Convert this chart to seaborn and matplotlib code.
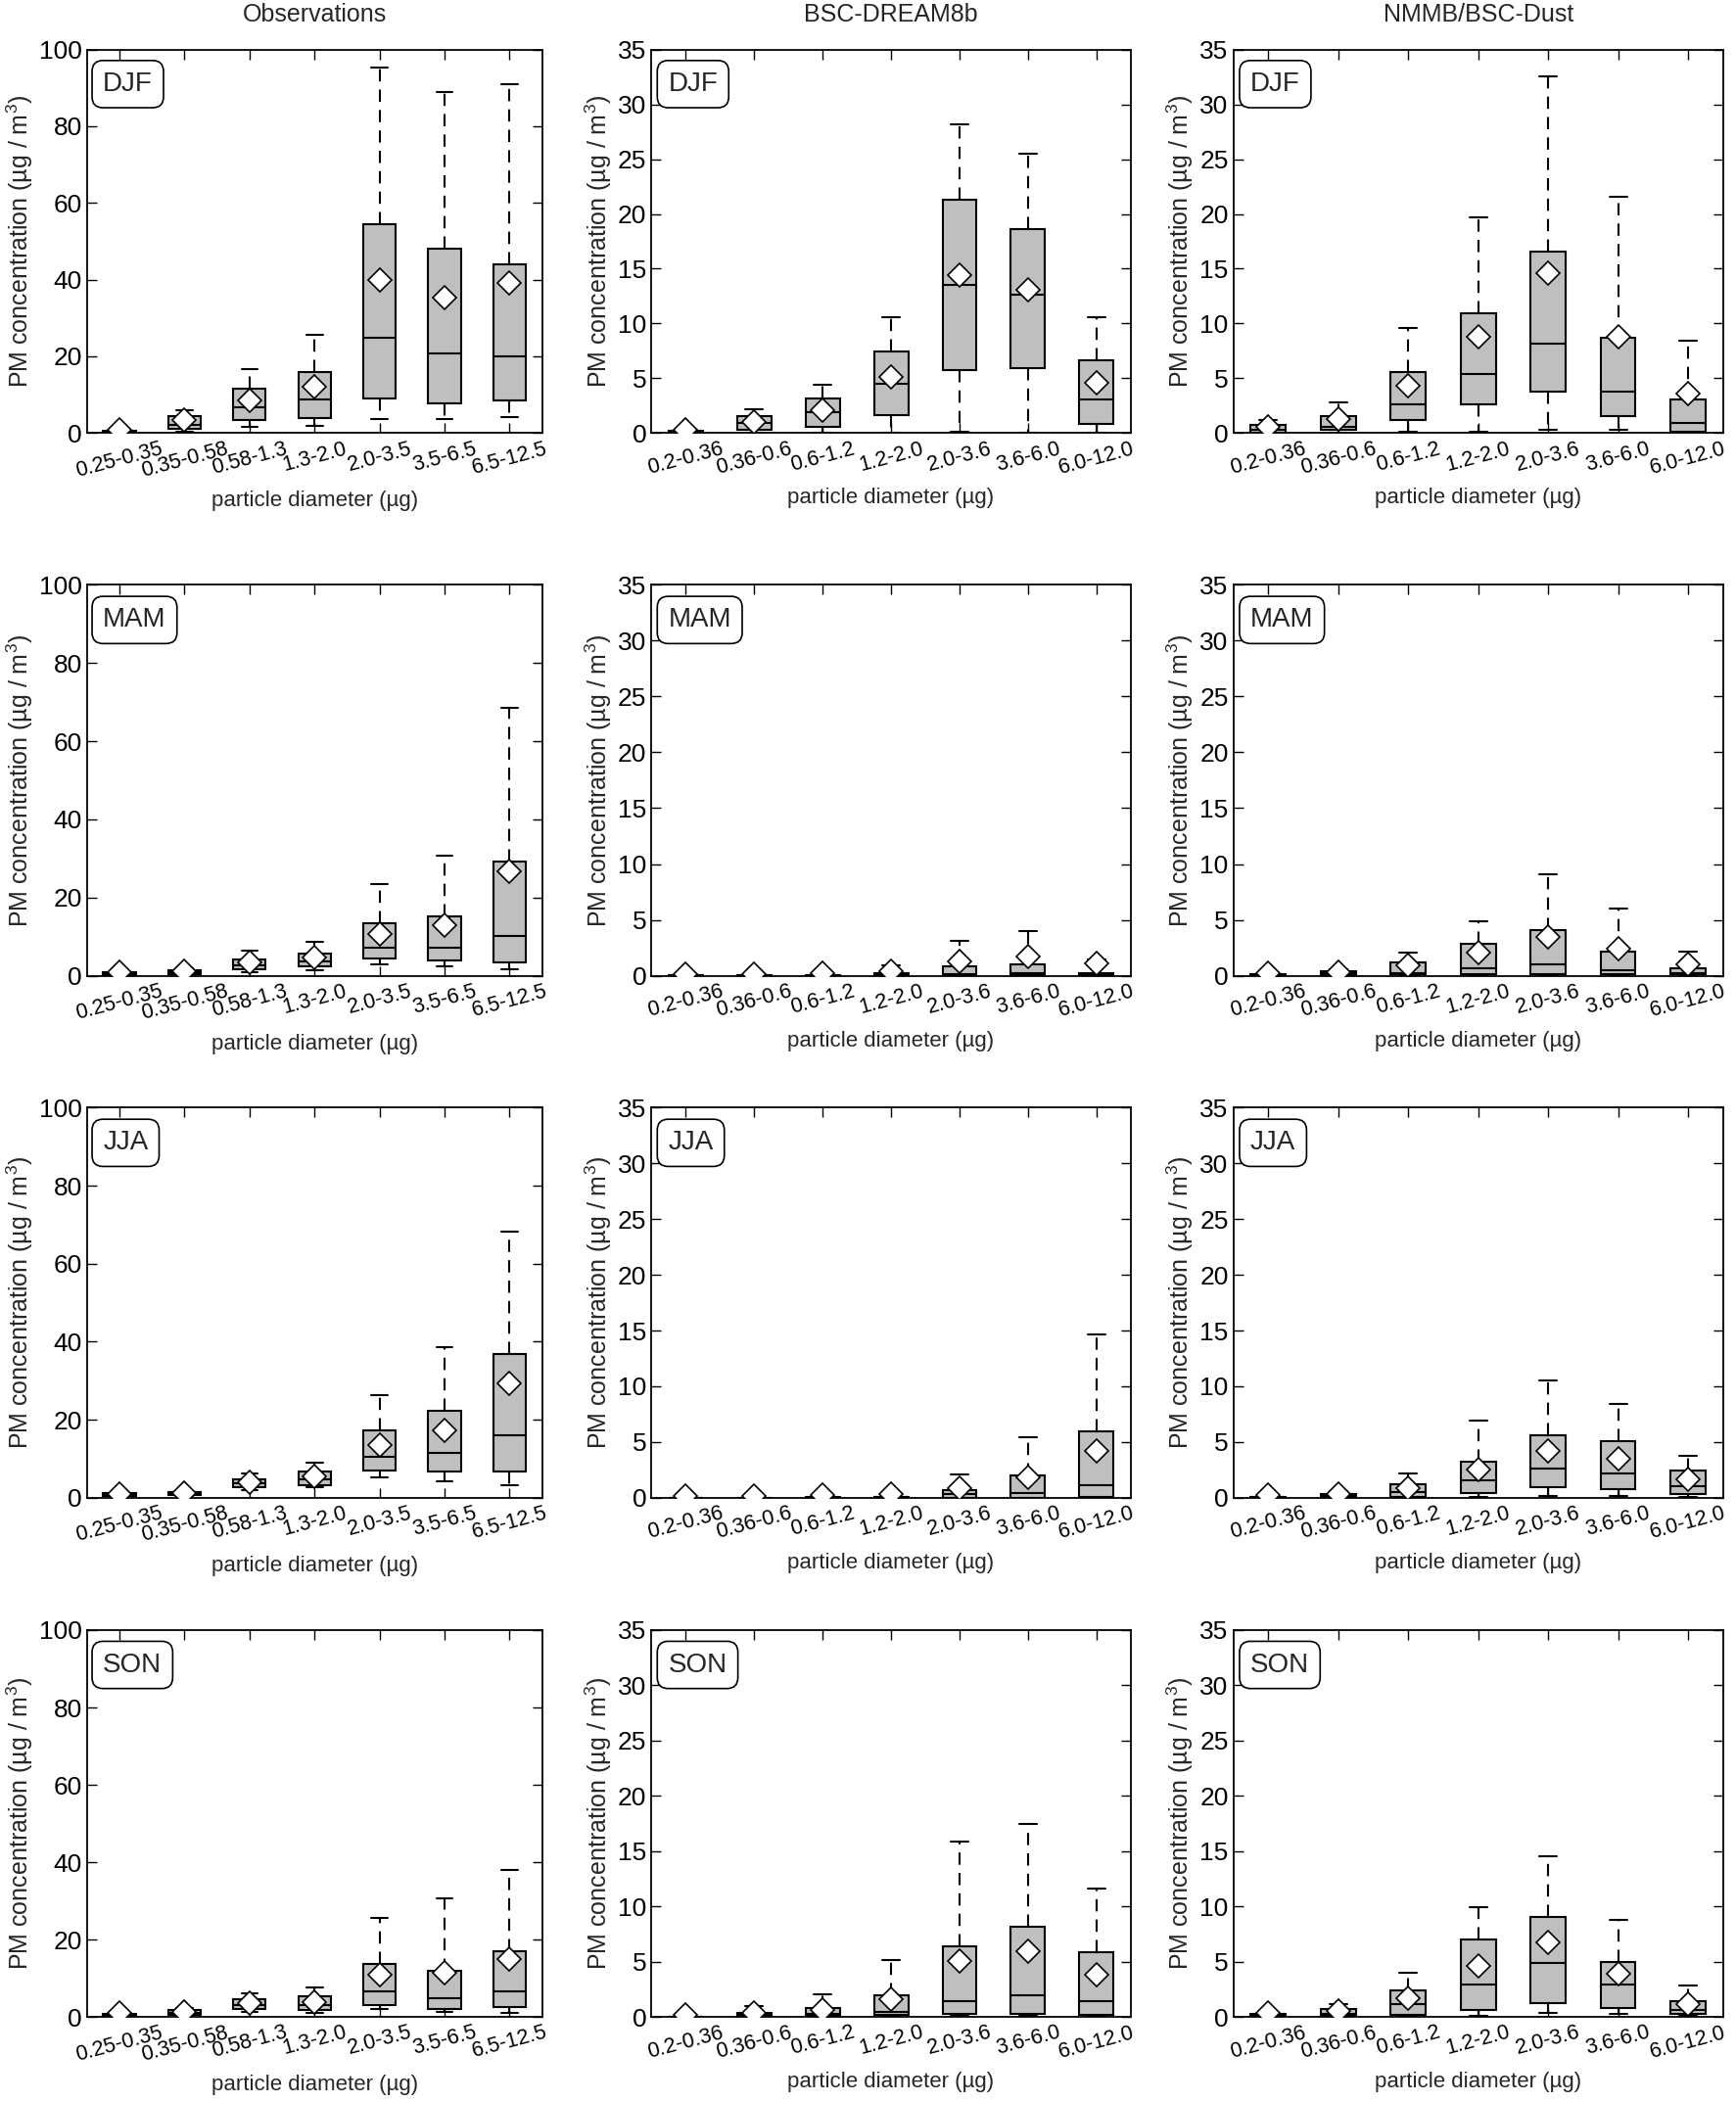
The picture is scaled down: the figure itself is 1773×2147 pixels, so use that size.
import numpy as np
import pandas as pd
import matplotlib
matplotlib.use('Agg')
import matplotlib.pyplot as plt
import seaborn as sns

# Size bins
obs_bins = ['0.25-0.35', '0.35-0.58', '0.58-1.3', '1.3-2.0', '2.0-3.5', '3.5-6.5', '6.5-12.5']
model_bins = ['0.2-0.36', '0.36-0.6', '0.6-1.2', '1.2-2.0', '2.0-3.6', '3.6-6.0', '6.0-12.0']
seasons = ['DJF', 'MAM', 'JJA', 'SON']
columns = ['Observations', 'BSC-DREAM8b', 'NMMB/BSC-Dust']

# Observations (whisker low, q1, median, q3, whisker high, mean)
obs_djf_lo = [0.0, 0.4, 1.5, 1.9, 3.7, 3.6, 4.1]
obs_djf_q1 = [0.1, 1.0, 3.4, 4.0, 8.9, 7.7, 8.6]
obs_djf_med = [0.4, 2.2, 6.6, 8.8, 24.8, 20.7, 20.1]
obs_djf_q3 = [0.7, 4.5, 11.6, 15.9, 54.5, 48.2, 44.1]
obs_djf_hi = [1.0, 6.0, 16.6, 25.5, 95.3, 88.9, 91.0]
obs_djf_mean = [0.8, 3.3, 8.6, 12.0, 40.0, 35.3, 39.2]

obs_mam_lo = [0.0, 0.1, 1.0, 1.5, 3.0, 2.5, 1.6]
obs_mam_q1 = [0.1, 0.3, 1.7, 2.3, 4.4, 3.8, 3.4]
obs_mam_med = [0.3, 0.8, 2.75, 3.75, 7.2, 7.1, 10.25]
obs_mam_q3 = [0.8, 1.3, 4.2, 5.6, 13.5, 15.3, 29.25]
obs_mam_hi = [1.0, 1.8, 6.5, 8.7, 23.4, 30.8, 68.4]
obs_mam_mean = [0.8, 1.2, 3.3, 4.6, 10.8, 12.9, 26.75]

obs_jja_lo = [0.3, 0.4, 2.0, 2.65, 5.1, 4.3, 3.2]
obs_jja_q1 = [0.5, 0.7, 2.65, 3.15, 6.9, 6.6, 6.6]
obs_jja_med = [0.9, 1.1, 3.6, 4.7, 10.5, 11.6, 16.0]
obs_jja_q3 = [1.3, 1.5, 4.7, 6.7, 17.2, 22.4, 36.9]
obs_jja_hi = [1.5, 1.8, 6.2, 8.9, 26.3, 38.7, 68.2]
obs_jja_mean = [1.0, 1.2, 3.9, 5.4, 13.5, 17.2, 29.2]

obs_son_lo = [0.0, 0.3, 1.25, 1.08, 2.16, 1.16, 1.0]
obs_son_q1 = [0.1, 0.5, 2.0, 1.66, 3.16, 2.16, 2.58]
obs_son_med = [0.4, 1.1, 3.16, 3.0, 6.5, 4.74, 6.57]
obs_son_q3 = [0.8, 1.9, 4.66, 5.24, 13.7, 12.0, 16.9]
obs_son_hi = [1.0, 2.2, 6.1, 7.57, 25.7, 30.6, 38.1]
obs_son_mean = [0.9, 1.4, 3.6, 3.83, 11.0, 11.3, 14.9]

# BSC-DREAM8b
bsc_djf_lo = [0.0, 0.0, 0.0, 0.0, 0.1, 0.0, 0.0]
bsc_djf_q1 = [0.05, 0.3, 0.6, 1.66, 5.72, 5.93, 0.8]
bsc_djf_med = [0.1, 0.96, 1.9, 4.52, 13.5, 12.65, 3.07]
bsc_djf_q3 = [0.2, 1.57, 3.13, 7.47, 21.3, 18.6, 6.63]
bsc_djf_hi = [0.3, 2.17, 4.43, 10.54, 28.2, 25.5, 10.54]
bsc_djf_mean = [0.3, 1.05, 2.1, 5.12, 14.4, 13.1, 4.58]

bsc_mam_lo = [0.0, 0.0, 0.0, 0.0, 0.0, 0.0, 0.0]
bsc_mam_q1 = [0.0, 0.0, 0.0, 0.05, 0.02, 0.02, 0.05]
bsc_mam_med = [0.02, 0.02, 0.03, 0.1, 0.15, 0.25, 0.1]
bsc_mam_q3 = [0.05, 0.05, 0.08, 0.25, 0.82, 1.0, 0.25]
bsc_mam_hi = [0.1, 0.1, 0.15, 0.9, 3.12, 4.0, 1.45]
bsc_mam_mean = [0.15, 0.15, 0.2, 0.45, 1.3, 1.7, 1.08]

bsc_jja_lo = [0.0, 0.0, 0.0, 0.0, 0.0, 0.0, 0.0]
bsc_jja_q1 = [0.0, 0.0, 0.0, 0.0, 0.02, 0.02, 0.09]
bsc_jja_med = [0.01, 0.01, 0.02, 0.05, 0.3, 0.44, 1.1]
bsc_jja_q3 = [0.02, 0.02, 0.05, 0.1, 0.67, 2.03, 5.96]
bsc_jja_hi = [0.05, 0.05, 0.1, 0.5, 2.12, 5.44, 14.65]
bsc_jja_mean = [0.15, 0.15, 0.2, 0.35, 0.87, 1.83, 4.22]

bsc_son_lo = [0.0, 0.0, 0.0, 0.0, 0.1, 0.1, 0.1]
bsc_son_q1 = [0.0, 0.05, 0.05, 0.17, 0.23, 0.23, 0.15]
bsc_son_med = [0.01, 0.15, 0.3, 0.47, 1.4, 1.98, 1.43]
bsc_son_q3 = [0.02, 0.35, 0.8, 1.98, 6.4, 8.18, 5.88]
bsc_son_hi = [0.05, 1.0, 2.0, 5.1, 15.85, 17.44, 11.65]
bsc_son_mean = [0.15, 0.32, 0.64, 1.6, 5.07, 5.91, 3.81]

# NMMB/BSC-Dust
nmmb_djf_lo = [0.0, 0.0, 0.1, 0.15, 0.3, 0.25, 0.0]
nmmb_djf_q1 = [0.05, 0.3, 1.2, 2.65, 3.77, 1.5, 0.1]
nmmb_djf_med = [0.3, 0.6, 2.6, 5.42, 8.13, 3.77, 0.96]
nmmb_djf_q3 = [0.7, 1.57, 5.6, 10.96, 16.57, 8.73, 3.07]
nmmb_djf_hi = [1.2, 2.83, 9.55, 19.7, 32.6, 21.6, 8.43]
nmmb_djf_mean = [0.6, 1.26, 4.28, 8.8, 14.6, 8.8, 3.6]

nmmb_mam_lo = [0.0, 0.0, 0.0, 0.0, 0.05, 0.0, 0.0]
nmmb_mam_q1 = [0.0, 0.05, 0.1, 0.1, 0.15, 0.1, 0.1]
nmmb_mam_med = [0.05, 0.2, 0.2, 0.7, 1.05, 0.5, 0.2]
nmmb_mam_q3 = [0.1, 0.4, 1.2, 2.9, 4.1, 2.13, 0.64]
nmmb_mam_hi = [0.2, 0.6, 2.05, 4.9, 9.07, 6.04, 2.2]
nmmb_mam_mean = [0.2, 0.35, 0.9, 2.05, 3.5, 2.4, 1.0]

nmmb_jja_lo = [0.0, 0.0, 0.0, 0.1, 0.15, 0.15, 0.06]
nmmb_jja_q1 = [0.0, 0.05, 0.1, 0.45, 0.93, 0.76, 0.32]
nmmb_jja_med = [0.05, 0.15, 0.5, 1.57, 2.65, 2.18, 1.05]
nmmb_jja_q3 = [0.1, 0.35, 1.2, 3.2, 5.62, 5.1, 2.42]
nmmb_jja_hi = [0.2, 0.6, 2.2, 6.93, 10.5, 8.45, 3.73]
nmmb_jja_mean = [0.2, 0.35, 0.87, 2.56, 4.2, 3.52, 1.63]

nmmb_son_lo = [0.0, 0.0, 0.06, 0.12, 0.32, 0.26, 0.09]
nmmb_son_q1 = [0.05, 0.1, 0.2, 0.64, 1.22, 0.82, 0.26]
nmmb_son_med = [0.15, 0.3, 1.14, 2.97, 4.87, 2.95, 0.64]
nmmb_son_q3 = [0.3, 0.7, 2.36, 6.97, 9.07, 4.93, 1.43]
nmmb_son_hi = [0.45, 1.15, 3.97, 9.97, 14.5, 8.75, 2.86]
nmmb_son_mean = [0.4, 0.5, 1.66, 4.58, 6.77, 3.91, 1.14]

panels = {
    ('Observations', 'DJF'): (obs_djf_lo, obs_djf_q1, obs_djf_med, obs_djf_q3, obs_djf_hi, obs_djf_mean),
    ('Observations', 'MAM'): (obs_mam_lo, obs_mam_q1, obs_mam_med, obs_mam_q3, obs_mam_hi, obs_mam_mean),
    ('Observations', 'JJA'): (obs_jja_lo, obs_jja_q1, obs_jja_med, obs_jja_q3, obs_jja_hi, obs_jja_mean),
    ('Observations', 'SON'): (obs_son_lo, obs_son_q1, obs_son_med, obs_son_q3, obs_son_hi, obs_son_mean),
    ('BSC-DREAM8b', 'DJF'): (bsc_djf_lo, bsc_djf_q1, bsc_djf_med, bsc_djf_q3, bsc_djf_hi, bsc_djf_mean),
    ('BSC-DREAM8b', 'MAM'): (bsc_mam_lo, bsc_mam_q1, bsc_mam_med, bsc_mam_q3, bsc_mam_hi, bsc_mam_mean),
    ('BSC-DREAM8b', 'JJA'): (bsc_jja_lo, bsc_jja_q1, bsc_jja_med, bsc_jja_q3, bsc_jja_hi, bsc_jja_mean),
    ('BSC-DREAM8b', 'SON'): (bsc_son_lo, bsc_son_q1, bsc_son_med, bsc_son_q3, bsc_son_hi, bsc_son_mean),
    ('NMMB/BSC-Dust', 'DJF'): (nmmb_djf_lo, nmmb_djf_q1, nmmb_djf_med, nmmb_djf_q3, nmmb_djf_hi, nmmb_djf_mean),
    ('NMMB/BSC-Dust', 'MAM'): (nmmb_mam_lo, nmmb_mam_q1, nmmb_mam_med, nmmb_mam_q3, nmmb_mam_hi, nmmb_mam_mean),
    ('NMMB/BSC-Dust', 'JJA'): (nmmb_jja_lo, nmmb_jja_q1, nmmb_jja_med, nmmb_jja_q3, nmmb_jja_hi, nmmb_jja_mean),
    ('NMMB/BSC-Dust', 'SON'): (nmmb_son_lo, nmmb_son_q1, nmmb_son_med, nmmb_son_q3, nmmb_son_hi, nmmb_son_mean),
}

sns.set_style('ticks')
plt.rcParams['font.family'] = ['Liberation Sans', 'DejaVu Sans']
plt.rcParams['mathtext.fontset'] = 'custom'
plt.rcParams['mathtext.rm'] = 'Liberation Sans'
plt.rcParams['mathtext.it'] = 'Liberation Sans:italic'


def draw_panel(ax, bins, stats, ymax, ystep, season):
    lo, q1, med, q3, hi, mean = stats
    # five summary values per bin -> boxplot with whiskers at min/max
    vals = np.column_stack([lo, q1, med, q3, hi]).ravel()
    df = pd.DataFrame({'size': np.repeat(bins, 5), 'conc': vals})
    sns.boxplot(data=df, x='size', y='conc', order=bins, ax=ax,
                whis=(0, 100), width=0.5, color='#bfbfbf', saturation=1,
                linecolor='black', linewidth=1.5, showfliers=False,
                whiskerprops=dict(linestyle=(0, (6, 4))),
                medianprops=dict(color='black'))
    sns.pointplot(x=bins, y=mean, order=bins, ax=ax, color='black',
                  markers='D', linestyle='none', errorbar=None,
                  markerfacecolor='white', markeredgecolor='black',
                  markersize=12, markeredgewidth=1.2, zorder=5)

    ax.set_xlim(-0.5, len(bins) - 0.5)
    ax.set_ylim(0, ymax)
    ax.set_yticks(np.arange(0, ymax + 1, ystep))
    ax.tick_params(direction='in', top=True, right=True, length=7,
                   width=1, labelsize=19, colors='black')
    ax.tick_params(axis='x', labelsize=15.5, labelrotation=15, pad=4)
    ax.set_xlabel('particle diameter (µg)', fontsize=16, labelpad=7)
    ax.set_ylabel('PM concentration (µg / m$^3$)', fontsize=18, labelpad=3)
    for sp in ax.spines.values():
        sp.set_linewidth(1.3)
        sp.set_color('black')
    ax.text(0.035, 0.91, season, transform=ax.transAxes, fontsize=20,
            ha='left', va='center',
            bbox=dict(boxstyle='round,pad=0.4', fc='white', ec='black', lw=1.2))


fig = plt.figure(figsize=(17.74, 21.47), dpi=100)

col_left = [0.0501, 0.375, 0.710]
col_width = [0.262, 0.276, 0.282]
row_bottom = [0.794, 0.5358, 0.2875, 0.0405]
row_height = [0.1824, 0.186, 0.1855, 0.184]

for c, name in enumerate(columns):
    bins = obs_bins if c == 0 else model_bins
    ymax, ystep = (100, 20) if c == 0 else (35, 5)
    for r, season in enumerate(seasons):
        ax = fig.add_axes([col_left[c], row_bottom[r], col_width[c], row_height[r]])
        draw_panel(ax, bins, panels[(name, season)], ymax, ystep, season)
    fig.text(col_left[c] + col_width[c] / 2, 0.9932, name, fontsize=18,
             ha='center', va='center')

fig.savefig('out.png', dpi=100, facecolor='white')
